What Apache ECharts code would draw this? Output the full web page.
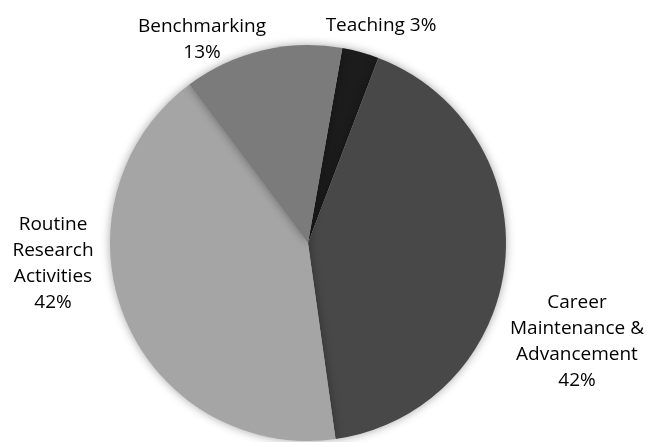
<!DOCTYPE html>
<html>
<head>
<meta charset="utf-8">
<script src="https://cdn.jsdelivr.net/npm/echarts@6/dist/echarts.min.js"></script>
<style>
html,body{margin:0;padding:0;background:#fff;}
#chart{width:648px;height:442px;}
</style>
</head>
<body>
<div id="chart"></div>
<script>
const categories = ['Teaching', 'Career\nMaintenance &\nAdvancement', 'Routine\nResearch\nActivities', 'Benchmarking'];
const values = [3, 42, 42, 13];
const labelTexts = ['Teaching 3%', 'Career\nMaintenance &\nAdvancement\n42%', 'Routine\nResearch\nActivities\n42%', 'Benchmarking\n13%'];

const colors = ['#1c1c1c', '#484848', '#a5a5a5', '#7b7b7b'];
const labelPos = [[381, 26], [577, 342], [53, 264], [202, 40]];

const chart = echarts.init(document.getElementById('chart'), null, {renderer: 'canvas'});
chart.setOption({
  backgroundColor: '#ffffff',
  animation: false,
  series: [{
    type: 'pie',
    center: [308, 243],
    radius: 198,
    startAngle: 80,
    clockwise: true,
    avoidLabelOverlap: false,
    data: categories.map((c, i) => ({
      name: c,
      value: values[i],
      itemStyle: {color: colors[i]}
    })),
    itemStyle: {
      borderWidth: 0,
      shadowBlur: 10,
      shadowColor: 'rgba(0,0,0,0.35)'
    },
    label: {
      show: true,
      position: 'outside',
      formatter: p => labelTexts[p.dataIndex],
      fontFamily: 'Open Sans',
      fontSize: 19,
      lineHeight: 26,
      color: '#000000',
      align: 'center'
    },
    labelLine: {show: false},
    labelLayout: p => ({
      x: labelPos[p.dataIndex][0],
      y: labelPos[p.dataIndex][1],
      align: 'center',
      verticalAlign: 'middle'
    })
  }]
});
</script>
</body>
</html>
